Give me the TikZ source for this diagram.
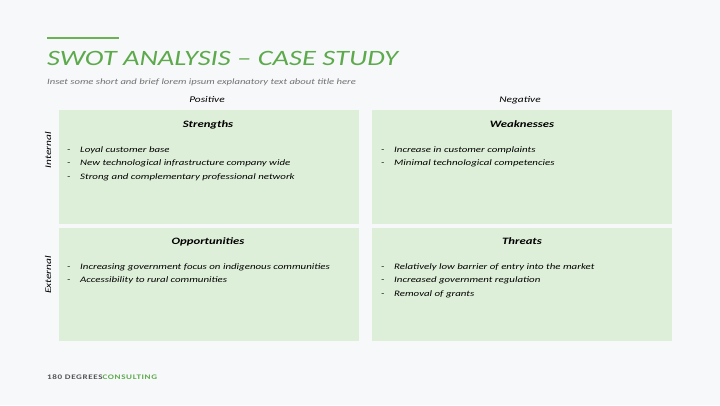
\documentclass[tikz,border=0pt]{standalone}
\usepackage{fontspec}
\setmainfont[FakeStretch=1.3]{Carlito}
\usetikzlibrary{positioning}

\definecolor{swotgreen}{HTML}{5DAA4C}
\definecolor{barfill}{HTML}{6BB252}
\definecolor{quadfill}{HTML}{DEEFD9}
\definecolor{pagebg}{HTML}{F7F8FA}
\definecolor{subgray}{HTML}{707070}
\definecolor{logogray}{HTML}{555555}

\newcommand{\dashitem}[1]{\makebox[13bp][l]{-}#1}

\begin{document}
\begin{tikzpicture}[x=1bp,y=-1bp,
    quad/.style={fill=quadfill, minimum width=300bp, minimum height=113.5bp,
      inner sep=0pt, anchor=north west},
    quadtitle/.style={font=\fontsize{9.8}{11}\selectfont\bfseries\itshape},
    sidelabel/.style={font=\fontsize{8.8}{10}\selectfont\itshape},
    bullets/.style={font=\fontsize{8.4}{13.5}\selectfont\itshape, align=left,
      anchor=north west, inner sep=0pt}]

    % Page
    \fill[pagebg] (0,0) rectangle (720,405);
    \useasboundingbox (0,0) rectangle (720,405);

    % Title
    \fill[barfill] (47,36.7) rectangle (119,39.3);
    \node[anchor=base west, inner sep=0pt, text=swotgreen,
      font=\fontsize{22}{25}\selectfont\itshape] (title) at (47,65) {SWOT ANALYSIS – CASE STUDY};
    \node[anchor=base west, inner sep=0pt, text=subgray,
      font=\fontsize{8.2}{9}\selectfont\itshape] (subtitle) at (47,84.5)
      {Inset some short and brief lorem ipsum explanatory text about title here};

    % Quadrants
    \node[quad] (sq) at (59,110) {};
    \node[quad] (wq) at (372,110) {};
    \node[quad] (oq) at (59,227.5) {};
    \node[quad] (tq) at (372,227.5) {};

    % Column and row labels
    \node[sidelabel, anchor=base] (pos) at (207,102.5) {Positive};
    \node[sidelabel, anchor=base] (neg) at (520,102.5) {Negative};
    \node[sidelabel, anchor=base, rotate=90] (int) at (51,150) {Internal};
    \node[sidelabel, anchor=base, rotate=90] (ext) at (51,275) {External};

    % Quadrant headings
    \node[quadtitle, anchor=base] (shead) at (208,127) {Strengths};
    \node[quadtitle, anchor=base] (whead) at (522,127) {Weaknesses};
    \node[quadtitle, anchor=base] (ohead) at (208,244) {Opportunities};
    \node[quadtitle, anchor=base] (thead) at (522,244) {Threats};

    % Bullet lists
    \node[bullets] (slist) at (67,146.5) {\dashitem{Loyal customer base}\\
      \dashitem{New technological infrastructure company wide}\\
      \dashitem{Strong  and complementary professional network}};
    \node[bullets] (wlist) at (381,146.5) {\dashitem{Increase in customer complaints}\\
      \dashitem{Minimal technological competencies}};
    \node[bullets] (olist) at (67,263.5) {\dashitem{Increasing government focus on indigenous communities}\\
      \dashitem{Accessibility to rural communities}};
    \node[bullets] (tlist) at (381,263.5) {\dashitem{Relatively low barrier of entry into the market}\\
      \dashitem{Increased government regulation}\\
      \dashitem{Removal of grants}};

    % Footer
    \node[anchor=base west, inner sep=0pt,
      font=\fontsize{7}{8}\selectfont\bfseries\addfontfeature{LetterSpace=9}] (logo)
      at (47,379.5) {\textcolor{logogray}{180 DEGREES}\textcolor{swotgreen}{CONSULTING}};

\end{tikzpicture}
\end{document}
